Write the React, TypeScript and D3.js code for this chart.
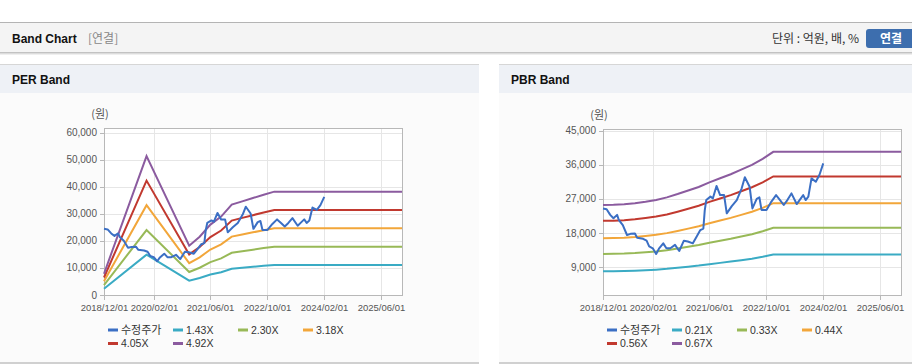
import React from 'react';
import * as d3 from 'd3';

// ---------- DATA ----------
const xDomainDates = ['2018/12/01', '2025/12/01'];
const xTickLabels = ['2018/12/01', '2020/02/01', '2021/06/01', '2022/10/01', '2024/02/01', '2025/06/01'];

const priceDates = [
  '2018/12/01', '2019/01/01', '2019/02/01', '2019/03/01', '2019/04/01', '2019/04/15', '2019/05/20',
  '2019/06/25', '2019/07/25', '2019/09/01', '2019/09/20', '2019/11/10', '2019/12/10', '2020/01/01',
  '2020/02/01', '2020/03/01', '2020/03/25', '2020/05/01', '2020/05/28', '2020/07/01', '2020/08/10',
  '2020/09/15', '2020/10/25', '2020/11/28', '2021/01/10', '2021/02/12', '2021/03/15', '2021/04/10',
  '2021/04/22', '2021/05/05', '2021/06/10', '2021/07/01', '2021/08/01', '2021/09/01', '2021/10/05',
  '2021/10/28', '2021/12/10', '2022/01/22', '2022/03/05', '2022/04/01', '2022/05/12', '2022/06/05',
  '2022/07/12', '2022/08/04', '2022/08/22', '2022/10/04', '2022/11/15', '2022/12/25', '2023/01/28',
  '2023/03/01', '2023/04/01', '2023/05/06', '2023/06/20', '2023/07/15', '2023/08/15', '2023/09/05',
  '2023/09/28', '2023/10/25', '2023/12/01', '2024/01/01', '2024/02/03',
];
const priceValues = [
  24500, 24300, 22800, 21900, 22800, 21500, 20100,
  17500, 17800, 17900, 16800, 16500, 16000, 14500,
  14000, 12500, 13900, 15300, 14000, 14000, 14900,
  13300, 16000, 15800, 15300, 17100, 18800, 19200,
  24000, 26700, 27600, 27150, 30400, 28000, 28000,
  23200, 25100, 26700, 29800, 32700, 30200, 24500,
  27000, 27400, 24100, 24100, 26300, 28000, 26700,
  25400, 26700, 28450, 25650, 26700, 28000, 26700,
  27600, 32400, 31500, 33300, 36350,
];

const perBandDates = [
  '2018/12/01', '2019/12/01', '2020/12/01', '2021/03/01', '2021/06/01', '2021/09/01',
  '2021/12/01', '2022/03/01', '2022/06/01', '2022/09/01', '2022/12/01', '2025/12/01',
];
const perEps = [1600, 10460, 3710, 4390, 5300, 5900, 6800, 7050, 7300, 7550, 7780, 7780];
const perMultiples = [1.43, 2.30, 3.18, 4.05, 4.92];
const perYTicks = [0, 10000, 20000, 30000, 40000, 50000, 60000];

const pbrBandDates = [
  '2018/12/01', '2019/03/01', '2019/06/01', '2019/09/01', '2019/12/01', '2020/03/01',
  '2020/06/01', '2020/09/01', '2020/12/01', '2021/03/01', '2021/06/01', '2021/09/01',
  '2021/12/01', '2022/03/01', '2022/06/01', '2022/09/01', '2022/12/01', '2025/12/01',
];
const pbrBps = [
  37900, 38000, 38200, 38600, 39200, 39900,
  40900, 42200, 43600, 45000, 46800, 48400,
  50000, 51800, 53700, 56000, 58800, 58800,
];
const pbrMultiples = [0.21, 0.33, 0.44, 0.56, 0.67];
const pbrYTicks = [9000, 18000, 27000, 36000, 45000];

const priceLabel = '수정주가';
const seriesColors = ['#3b6fc4', '#3aabc4', '#98b957', '#f2a63a', '#c1392f', '#8b5b9f'];

// ---------- HELPERS ----------
const parse = d3.timeParse('%Y/%m/%d');
const latin = '"Liberation Sans", Arial, sans-serif';
const korean = '"Noto Sans CJK KR", "Liberation Sans", sans-serif';

type ChartProps = {
  left: number; right: number; top: number; bottom: number;
  yDomain: [number, number]; yTicks: number[];
  bandDates: string[]; bandBase: number[]; multiples: number[];
};

function BandPlot(p: ChartProps) {
  const x = d3.scaleTime()
    .domain(xDomainDates.map((d) => parse(d) as Date))
    .range([p.left, p.right]);
  const y = d3.scaleLinear().domain(p.yDomain).range([p.bottom, p.top]);
  const fmt = d3.format(',');
  const line = d3.line<[Date, number]>()
    .x((d) => x(d[0]))
    .y((d) => y(d[1]));

  const bands = p.multiples.map((m) =>
    p.bandDates.map((d, i) => [parse(d) as Date, p.bandBase[i] * m] as [Date, number])
  );
  const price = priceDates.map((d, i) => [parse(d) as Date, priceValues[i]] as [Date, number]);

  const legendItems = [priceLabel, ...p.multiples.map((m) => m.toFixed(2) + 'X')];

  return (
    <g>
      <rect x={p.left} y={p.top} width={p.right - p.left} height={p.bottom - p.top} fill="#ffffff" />
      {/* grid */}
      {p.yTicks.map((t) => (
        <line key={'gy' + t} x1={p.left} x2={p.right} y1={Math.round(y(t)) + 0.5} y2={Math.round(y(t)) + 0.5}
          stroke="#e6e6e6" strokeWidth={1} />
      ))}
      {xTickLabels.map((t) => {
        const xx = Math.round(x(parse(t) as Date)) + 0.5;
        return <line key={'gx' + t} x1={xx} x2={xx} y1={p.top} y2={p.bottom} stroke="#e6e6e6" strokeWidth={1} />;
      })}
      {/* border */}
      <rect x={p.left + 0.5} y={p.top + 0.5} width={p.right - p.left} height={p.bottom - p.top}
        fill="none" stroke="#b8b8b8" strokeWidth={1} />
      {/* y ticks */}
      {p.yTicks.map((t) => (
        <g key={'ty' + t}>
          <line x1={p.left - 4} x2={p.left} y1={Math.round(y(t)) + 0.5} y2={Math.round(y(t)) + 0.5} stroke="#b8b8b8" />
          <text x={p.left - 7} y={y(t)} dy="0.35em" textAnchor="end" fontSize={10} fill="#555" fontFamily={latin}>
            {fmt(t)}
          </text>
        </g>
      ))}
      <text x={p.left - 4} y={p.top - 10} textAnchor="middle" fontSize={11} fill="#555" fontFamily={korean}>(원)</text>
      {/* x ticks */}
      {xTickLabels.map((t) => {
        const xx = Math.round(x(parse(t) as Date)) + 0.5;
        return (
          <g key={'tx' + t}>
            <line x1={xx} x2={xx} y1={p.bottom} y2={p.bottom + 5} stroke="#b8b8b8" />
            <text x={xx} y={p.bottom + 16} textAnchor="middle" fontSize={9.5} fill="#555" fontFamily={latin}>{t}</text>
          </g>
        );
      })}
      {/* bands */}
      {bands.map((b, i) => (
        <path key={'b' + i} d={line(b) || ''} fill="none" stroke={seriesColors[i + 1]} strokeWidth={2} />
      ))}
      <path d={line(price) || ''} fill="none" stroke={seriesColors[0]} strokeWidth={2} strokeLinejoin="round" />
      {/* legend */}
      {legendItems.map((lab, i) => {
        const col = i % 4;
        const row = Math.floor(i / 4);
        const lx = p.left + 4 + col * 65;
        const ly = 330 + row * 13.5;
        return (
          <g key={'lg' + i}>
            <line x1={lx} x2={lx + 10} y1={ly} y2={ly} stroke={seriesColors[i]} strokeWidth={3} />
            <text x={lx + 13} y={ly} dy="0.36em" fontSize={i === 0 ? 11 : 10.5} fill="#333"
              fontFamily={i === 0 ? korean : latin}>{lab}</text>
          </g>
        );
      })}
    </g>
  );
}

function Panel({ x0, w, title, children }: { x0: number; w: number; title: string; children: React.ReactNode }) {
  return (
    <g>
      <rect x={x0} y={64} width={w} height={298} fill="#fbfbfb" />
      <rect x={x0} y={64} width={w} height={1} fill="#d6d6d6" />
      <rect x={x0} y={65} width={w} height={28} fill="#eef1f6" />
      <text x={x0 + 12} y={84} fontSize={12} fontWeight="bold" fill="#111" fontFamily={latin}>{title}</text>
      <rect x={x0} y={362} width={w} height={2} fill="#d0d0d0" />
      {children}
    </g>
  );
}

export default function App() {
  return (
    <div style={{ position: 'fixed', left: 0, top: 0 }}>
      <svg width={912} height={364} style={{ display: 'block' }}>
        <rect x={0} y={0} width={912} height={364} fill="#ffffff" />
        {/* header bar */}
        <rect x={0} y={22} width={912} height={1} fill="#b4b4b4" />
        <rect x={0} y={23} width={912} height={29} fill="#f4f4f4" />
        <rect x={0} y={52} width={912} height={1} fill="#c2c2c2" />
        <rect x={0} y={53} width={912} height={1} fill="#dcdcdc" />
        <rect x={0} y={54} width={912} height={1} fill="#efefef" />
        <text x={12} y={42.5} fontSize={12} fontWeight="bold" fill="#111" fontFamily={latin}>Band Chart</text>
        <text x={88} y={42.5} fontSize={12} fill="#888" fontFamily={korean}>[연결]</text>
        <text x={859} y={42.5} textAnchor="end" fontSize={12} fill="#333" fontFamily={korean}>단위 : 억원, 배, %</text>
        <rect x={866} y={29} width={52} height={19} rx={3} fill="#3d6eae" />
        <text x={891} y={42.5} textAnchor="middle" fontSize={12} fontWeight="bold" fill="#ffffff" fontFamily={korean}>연결</text>

        <Panel x0={0} w={479} title="PER Band">
          <BandPlot left={104} right={402} top={128} bottom={295} yDomain={[0, 61850]} yTicks={perYTicks}
            bandDates={perBandDates} bandBase={perEps} multiples={perMultiples} />
        </Panel>
        <Panel x0={499} w={413} title="PBR Band">
          <BandPlot left={603} right={901} top={129} bottom={295} yDomain={[1710, 45400]} yTicks={pbrYTicks}
            bandDates={pbrBandDates} bandBase={pbrBps} multiples={pbrMultiples} />
        </Panel>
      </svg>
    </div>
  );
}
